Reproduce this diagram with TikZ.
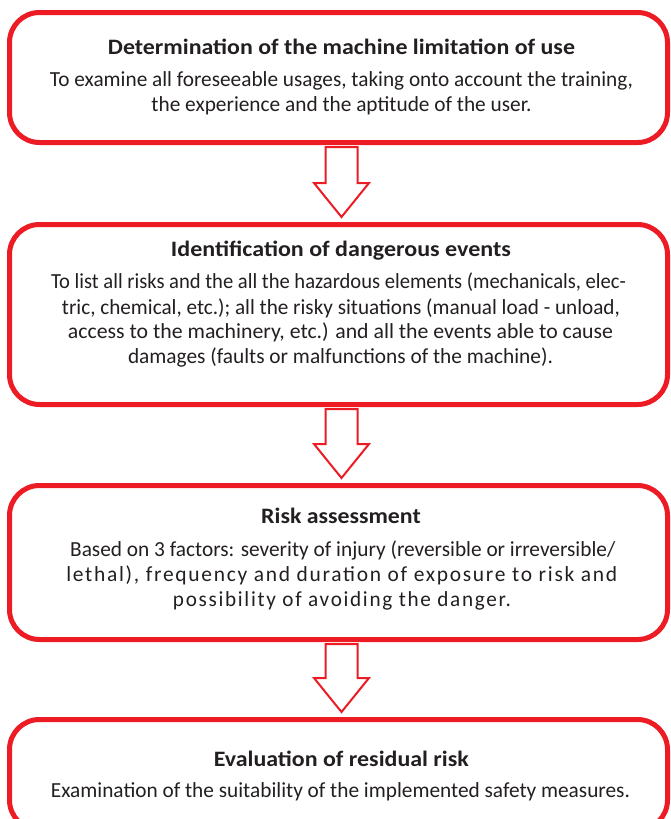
\documentclass[tikz,border=0pt]{standalone}
\usepackage{fontspec}
\setmainfont{Carlito}
\usepackage{graphicx}
\usetikzlibrary{calc}
\definecolor{boxred}{HTML}{ED1C24}
\definecolor{txtgray}{HTML}{231F20}
\newcommand{\fitw}[2]{\resizebox{#1pt}{\height}{#2}}
\newcommand{\spaced}[1]{{\addfontfeatures{LetterSpace=8}#1}}
\newcommand{\blockarr}[2]{%
  \draw[blockarrow] let \p1=($(#1.south)+(3,4.5)$), \p2=($(#2.north)+(3,-7.5)$) in
    (\x1-16pt,\y1) -- (\x1+16pt,\y1) -- (\x1+16pt,\y2+34pt) -- (\x1+27.5pt,\y2+34pt)
    -- (\x2,\y2) -- (\x1-27.5pt,\y2+34pt) -- (\x1-16pt,\y2+34pt) -- cycle;}
\begin{document}
\begin{tikzpicture}[x=1pt,y=-1pt,
  box/.style={draw=boxred, line width=5pt, rounded corners=30pt, minimum width=658pt,
    inner sep=0pt, outer sep=0pt},
  blockarrow/.style={draw=boxred, line width=2pt, fill=white, line join=miter},
  title/.style={anchor=base, font=\fontsize{22}{26}\selectfont\bfseries, text=txtgray, inner sep=0pt},
  body/.style={anchor=base, font=\fontsize{21.5}{25}\selectfont, text=txtgray, inner sep=0pt}]
\useasboundingbox (0,0) rectangle (670,819);
\clip (0,0) rectangle (670,819);
% boxes
\node[box, minimum height=130pt] (b1) at (338.5,77.5) {};
\node[box, minimum height=180pt] (b2) at (338.5,314.5) {};
\node[box, minimum height=154pt] (b3) at (338.5,562.5) {};
\node[box, minimum height=110.5pt] (b4) at (338.5,774.75) {};
% arrows
\blockarr{b1}{b2}
\blockarr{b2}{b3}
\blockarr{b3}{b4}
% box 1
\node[title] (t1) at (341.5,54) {\fitw{467}{Determination of the machine limitation of use}};
\node[body] (l11) at (341.5,86.5) {\fitw{583}{To examine all foreseeable usages, taking onto account the training,}};
\node[body] (l12) at (341.5,111) {\fitw{380}{the experience and the aptitude of the user.}};
% box 2
\node[title] (t2) at (341,256.7) {\fitw{340}{Identification of dangerous events}};
\node[body] (l21) at (338.5,288.3) {\fitw{575}{To list all risks and the all the hazardous elements (mechanicals, elec-}};
\node[body] (l22) at (341,314) {\fitw{558}{tric, chemical, etc.); all the risky situations (manual load - unload,}};
\node[body] (l23) at (340.5,338.5) {\fitw{545}{access to the machinery, etc.) and all the events able to cause}};
\node[body] (l24) at (340.5,363.5) {\fitw{425}{damages (faults or malfunctions of the machine).}};
% box 3
\node[title] (t3) at (341,523) {\fitw{159.5}{Risk assessment}};
\node[body] (l31) at (342.7,556) {\fitw{545}{Based on 3 factors: severity of injury (reversible or irreversible/}};
\node[body] (l32) at (341.8,581.5) {\fitw{551}{\spaced{lethal), frequency and duration of exposure to risk and}}};
\node[body] (l33) at (342,606) {\fitw{338}{\spaced{possibility of avoiding the danger.}}};
% box 4
\node[title] (t4) at (341.3,766) {\fitw{255}{Evaluation of residual risk}};
\node[body] (l41) at (340.5,797) {\fitw{579}{Examination of the suitability of the implemented safety measures.}};
\end{tikzpicture}
\end{document}
